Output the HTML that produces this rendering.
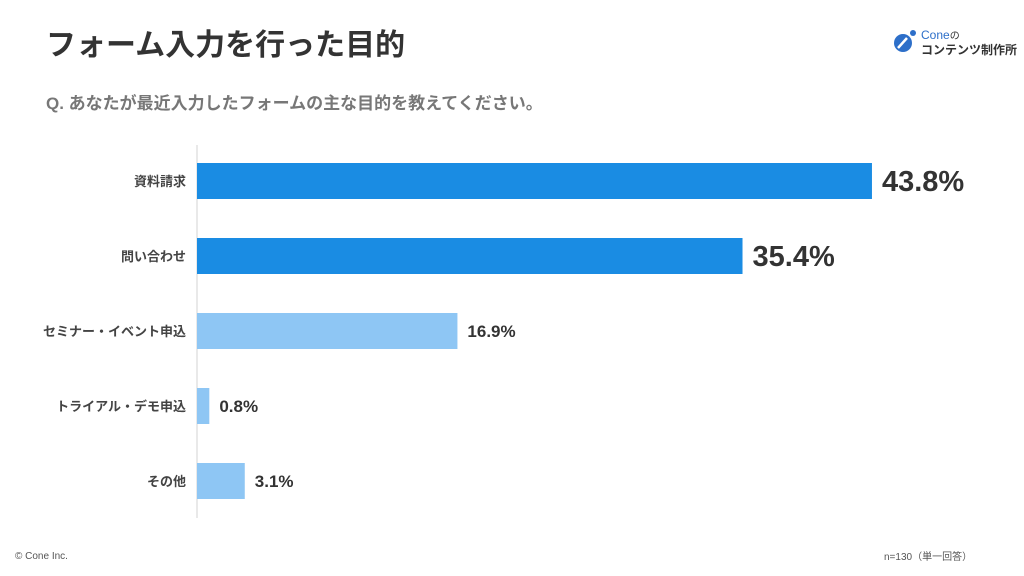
<!DOCTYPE html>
<html><head><meta charset="utf-8"><style>
body{margin:0;width:1024px;height:576px;background:#fff;font-family:"Liberation Sans","Noto Sans CJK JP",sans-serif;position:relative;overflow:hidden}
.t{position:absolute;white-space:nowrap}
</style></head><body>
<div class="t" style="left:46px;top:20px;font-size:30px;font-weight:bold;color:#333">フォーム入力を行った目的</div>
<div class="t" style="left:46px;top:89px;font-size:17px;font-weight:bold;color:#777">Q. あなたが最近入力したフォームの主な目的を教えてください。</div>
<div style="position:absolute;left:892px;top:29px;width:130px;height:26px">
<svg width="26" height="26" style="position:absolute;left:0;top:0"><circle cx="11" cy="14" r="9" fill="#2d6fc9"/><line x1="6" y1="19" x2="15" y2="9" stroke="#fff" stroke-width="2.5"/><circle cx="21" cy="4" r="3" fill="#2d6fc9"/></svg>
<div class="t" style="left:29px;top:-2px;font-size:12px;color:#2d6fc9">Cone<span style="color:#333;font-size:10px">の</span></div>
<div class="t" style="left:29px;top:12px;font-size:12px;font-weight:bold;color:#333">コンテンツ制作所</div>
</div>
<svg id="chart" width="1024" height="576" style="position:absolute;left:0;top:0"></svg>
<div class="t" style="left:15px;top:551px;font-size:10px;color:#555">© Cone Inc.</div>
<div class="t" style="left:884px;top:548px;font-size:10px;color:#555">n=130（単一回答）</div>
<script>
const categories=["資料請求","問い合わせ","セミナー・イベント申込","トライアル・デモ申込","その他"];
const values=[43.8,35.4,16.9,0.8,3.1];
const labels=["43.8%","35.4%","16.9%","0.8%","3.1%"];
const NS="http://www.w3.org/2000/svg";
const svg=document.getElementById('chart');
const x0=197,scale=15.41;
const xs=v=>x0+v*scale;
const yc=i=>181+i*75;
function mk(t,a){const e=document.createElementNS(NS,t);for(const k in a)e.setAttribute(k,a[k]);svg.appendChild(e);return e;}
const ax=mk('line',{x1:x0,y1:145,x2:x0,y2:518,stroke:'#e2e2e2','stroke-width':1.5});


values.forEach((v,i)=>{
 const big=i<2;
 const r=mk('rect',{x:x0,y:yc(i)-18,width:xs(v)-x0,height:36,fill:big?'#1a8ce3':'#8ec6f4'});
 
 
 const c=mk('text',{x:186,y:yc(i)+5,'text-anchor':'end','font-size':13,'font-weight':'bold',fill:'#444'});
 c.textContent=categories[i];
 
 
 const l=mk('text',{x:xs(v)+10,y:yc(i)+(big?10:6),'font-size':big?29:17,'font-weight':'bold',fill:'#333'});
 l.textContent=labels[i];
 
 
});
</script>
</body></html>
